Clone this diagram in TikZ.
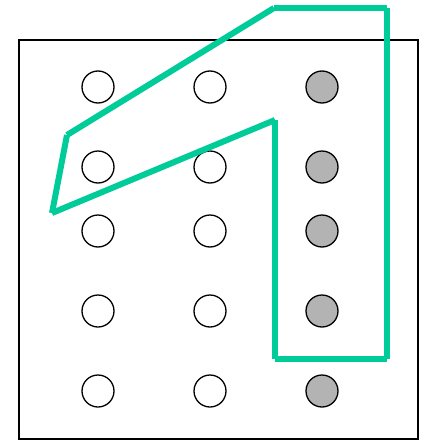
\documentclass[tikz,border=0pt]{standalone}
\usepackage{tikz}
\definecolor{grn}{RGB}{0,204,153}
\definecolor{dotgray}{RGB}{179,179,179}
\tikzset{
  dot/.style={circle,draw=black,line width=1.3pt,minimum size=32pt,inner sep=0pt,fill=white},
  gdot/.style={dot,fill=dotgray},
  stroke/.style={draw=grn,line width=6pt,line cap=butt}
}
\begin{document}
\begin{tikzpicture}[x=1pt,y=-1pt]
\useasboundingbox (0,0) rectangle (424,442);
\draw[line width=1.5pt] (19,40) rectangle (418,439);
\foreach \r/\y in {1/87,2/167,3/231,4/311,5/391}{
  \node[dot] (a\r) at (98,\y) {};
  \node[dot] (b\r) at (210,\y) {};
  \node[gdot] (c\r) at (322,\y) {};
}
\coordinate (p1) at (274,8);
\coordinate (p2) at (387,8);
\coordinate (p3) at (387,359);
\coordinate (p4) at (275,359);
\coordinate (p5) at (275,120);
\coordinate (p6) at (52,213);
\coordinate (p7) at (67,135);
\draw[stroke] (p1) -- (p2);
\draw[stroke] (p2) -- (p3);
\draw[stroke] (p3) -- (p4);
\draw[stroke] (p4) -- (p5);
\draw[stroke] (p5) -- (p6);
\draw[stroke] (p6) -- (p7);
\draw[stroke] (p7) -- (p1);
\end{tikzpicture}
\end{document}
